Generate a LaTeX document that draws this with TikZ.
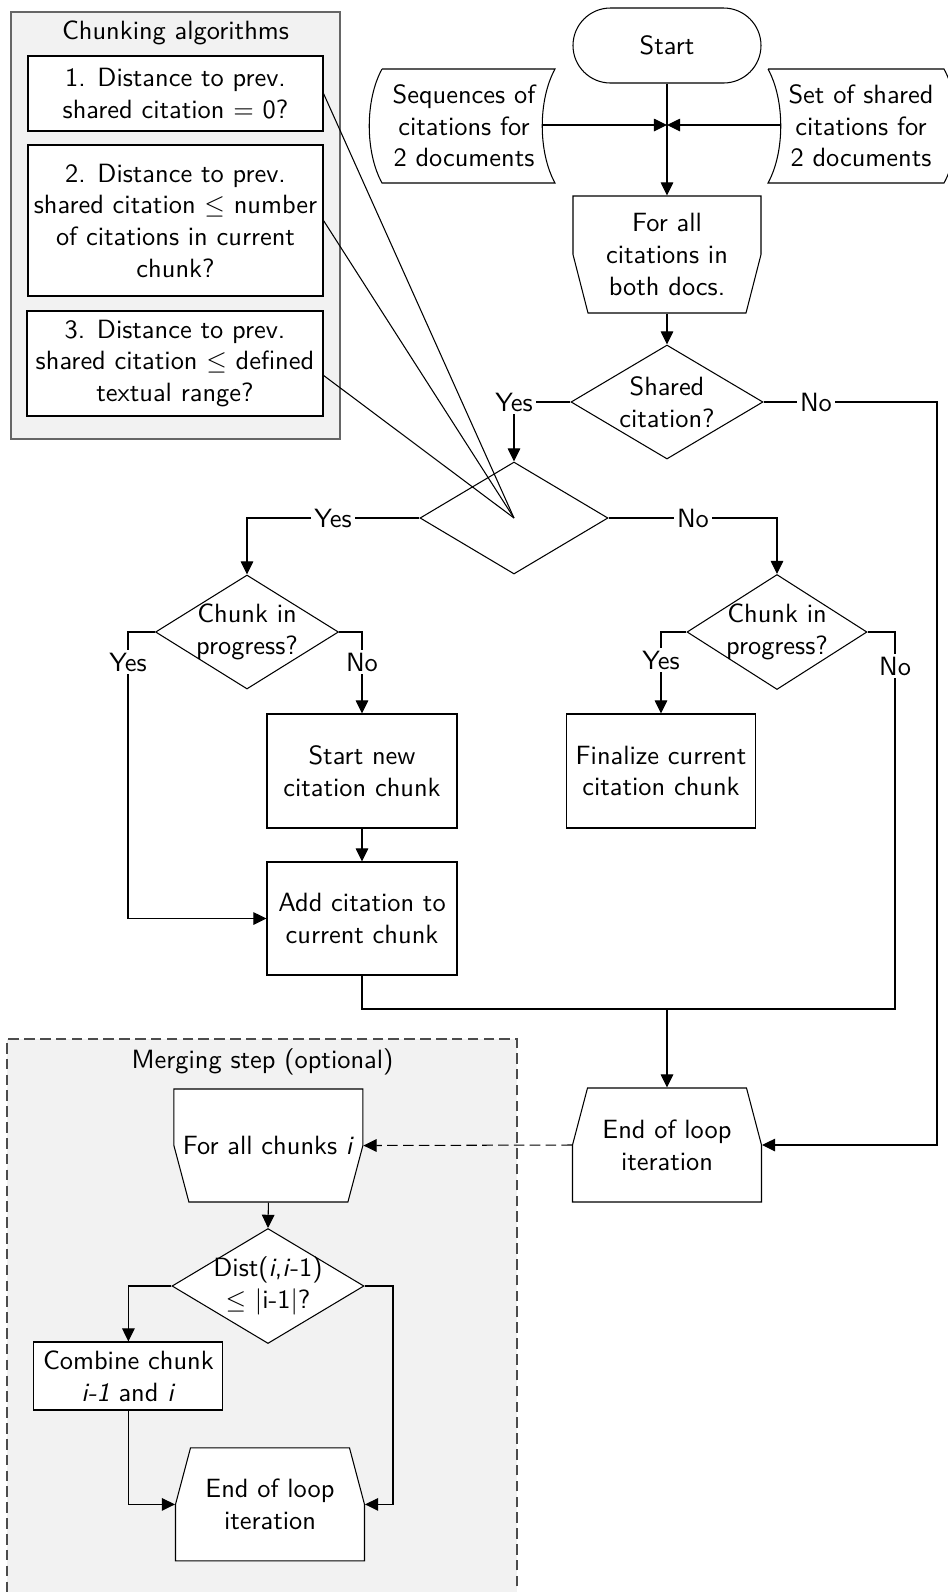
\documentclass[tikz,border=0pt]{standalone}
\usetikzlibrary{shapes.geometric,arrows.meta,calc}
\newdimen\pxu \pxu=0.3788pt
\newcommand{\LimBot}[6]{%
  \filldraw[fill=white] ({#2-#4/2},{#3-#5/2}) -- ({#2+#4/2},{#3-#5/2}) -- ({#2+#4/2},{#3}) -- ({#2+#4/2-15},{#3+#5/2}) -- ({#2-#4/2+15},{#3+#5/2}) -- ({#2-#4/2},{#3}) -- cycle;
  \node[plain, sz={#4}{#5}] (#1) at (#2,#3) {#6};}
\newcommand{\LimTop}[6]{%
  \filldraw[fill=white] ({#2-#4/2+15},{#3-#5/2}) -- ({#2+#4/2-15},{#3-#5/2}) -- ({#2+#4/2},{#3}) -- ({#2+#4/2},{#3+#5/2}) -- ({#2-#4/2},{#3+#5/2}) -- ({#2-#4/2},{#3}) -- cycle;
  \node[plain, sz={#4}{#5}] (#1) at (#2,#3) {#6};}
\begin{document}
\begin{tikzpicture}[x=0.3788pt, y=-0.3788pt, font=\sffamily,
  >={Triangle[length=5pt,width=4.8pt]},
  sz/.style 2 args={minimum width={#1*\pxu}, minimum height={#2*\pxu}},
  rbox/.style={draw, fill=white, rectangle, inner sep=0pt, align=center},
  dia/.style={draw, fill=white, diamond, inner sep=0pt},
  plain/.style={draw=none, align=center, inner sep=0pt},
  lbl/.style={inner sep=1pt},
  grp/.style={draw=black!60, fill=black!5, rectangle, inner sep=0pt},
  dsh/.style={dash pattern=on 4pt off 2pt}]
\useasboundingbox (0,0) rectangle (948,1592);

% ---------- Chunking algorithms group
\node[grp, sz={329}{427}] (cbox) at (175.5,225.5) {};
\node[plain] (ctitle) at (175.5,33) {Chunking algorithms};
\node[rbox, sz={295}{75}] (b1) at (175.5,93.5) {1. Distance to prev.\\shared citation $=$ 0?};
\node[rbox, sz={295}{151}] (b2) at (175.5,220.5) {2. Distance to prev.\\shared citation $\leq$ number\\of citations in current\\chunk?};
\node[rbox, sz={296}{105}] (b3) at (175,363.5) {3. Distance to prev.\\shared citation $\leq$ defined\\textual range?};

% ---------- Start and inputs
\node[draw, rectangle, rounded corners=14.2pt, sz={188}{75}, inner sep=0pt] (start) at (667,45.5) {Start};
\draw (382,69) -- (555,69) .. controls (538,100) and (538,152) .. (555,183) -- (382,183) .. controls (365,152) and (365,100) .. (382,69);
\node[plain] (inL) at (464,126) {Sequences of\\citations for\\2 documents};
\draw (768,69) -- (944,69) .. controls (961,100) and (961,152) .. (944,183) -- (768,183) .. controls (785,152) and (785,100) .. (768,69);
\node[plain] (inR) at (861,126) {Set of shared\\citations for\\2 documents};
\coordinate (inLe) at (542,125);
\coordinate (inRw) at (781,125);
\coordinate (join) at (667,125);

\LimBot{fa}{667}{254.5}{188}{117}{For all\\citations in\\both docs.}

\node[dia, sz={192}{114}] (sh) at (667,402) {};
\node[plain] (sht) at (667,402) {Shared\\citation?};

\node[dia, sz={188}{112}] (d2) at (514,518) {};

\node[dia, sz={183}{114}] (d3) at (247,632) {};
\node[plain] (d3t) at (247,632) {Chunk in\\progress?};
\node[dia, sz={180}{115}] (d4) at (777,632) {};
\node[plain] (d4t) at (777,632) {Chunk in\\progress?};

\node[rbox, sz={190}{114}] (sn) at (362,771) {Start new\\citation chunk};
\node[rbox, sz={190}{113}] (add) at (362,918.5) {Add citation to\\current chunk};
\node[rbox, sz={189}{114}] (fin) at (661,771) {Finalize current\\citation chunk};

\LimTop{el}{667}{1145}{189}{114}{End of loop\\iteration}

% labels
\node[lbl] (yes1) at (514,402) {Yes};
\node[lbl] (no1) at (816,402) {No};
\node[lbl] (yes2) at (333,518) {Yes};
\node[lbl] (no2) at (693,518) {No};
\node[lbl] (yes3) at (128,662) {Yes};
\node[lbl] (no3) at (362,662) {No};
\node[lbl] (yes4) at (661,660) {Yes};
\node[lbl] (no4) at (895,666) {No};
\coordinate (rr) at (937,402);
\coordinate (mb) at (667,1009);

% connectors (top part)
\draw (b1.east) -- (d2.center);
\draw (b2.east) -- (d2.center);
\draw ([yshift=-4.5pt]b3.east) -- (d2.center);
\draw[->] (inLe) -- (join);
\draw[->] (inRw) -- (join);
\draw[->] (start.south) -- (fa.north);
\draw[->] (fa.south) -- (sh.north);
\draw (sh.west) -- (yes1.east);
\draw[->] (yes1.south) -- (d2.north);
\draw (sh.east) -- (no1.west);
\draw[->] (no1.east) -- (rr) |- (el.east);
\draw (d2.west) -- (yes2.east);
\draw[->] (yes2.west) -| (d3.north);
\draw (d2.east) -- (no2.west);
\draw[->] (no2.east) -| (d4.north);
\draw (d3.west) -| (yes3.north);
\draw[->] (yes3.south) |- (add.west);
\draw (d3.east) -| (no3.north);
\draw[->] (no3.south) -- (sn.north);
\draw[->] (sn.south) -- (add.north);
\draw (d4.west) -| (yes4.north);
\draw[->] (yes4.south) -- (fin.north);
\draw (d4.east) -| (no4.north);
\draw (no4.south) |- (mb);
\draw (add.south) |- (mb);
\draw[->] (mb) -- (el.north);

% ---------- Merging step group
\node[grp, dsh, draw=black!70, sz={510}{560}] (mbox) at (262,1319) {};
\node[plain] (mtitle) at (262.5,1062) {Merging step (optional)};
\LimBot{fac}{268.4}{1145.5}{189}{113}{For all chunks \textit{i}}
\node[dia, sz={192}{115}] (d5) at (268,1286) {};
\node[plain] (d5t) at (268,1286) {Dist(\textit{i},\textit{i}-1)\\$\leq$ |i-1|?};
\node[rbox, sz={189}{68}] (comb) at (128.4,1376) {Combine chunk\\\textit{i-1} and \textit{i}};
\LimTop{el2}{270}{1504.4}{189}{113}{End of loop\\iteration}
\coordinate (r5) at (393,1286);

\draw[->, dsh] (el.west) -- (fac.east);
\draw[->] (fac.south) -- (d5.north);
\draw[->] (d5.west) -| (comb.north);
\draw[->] (d5.east) -- (r5) |- (el2.east);
\draw[->] (comb.south) |- (el2.west);
\end{tikzpicture}
\end{document}
